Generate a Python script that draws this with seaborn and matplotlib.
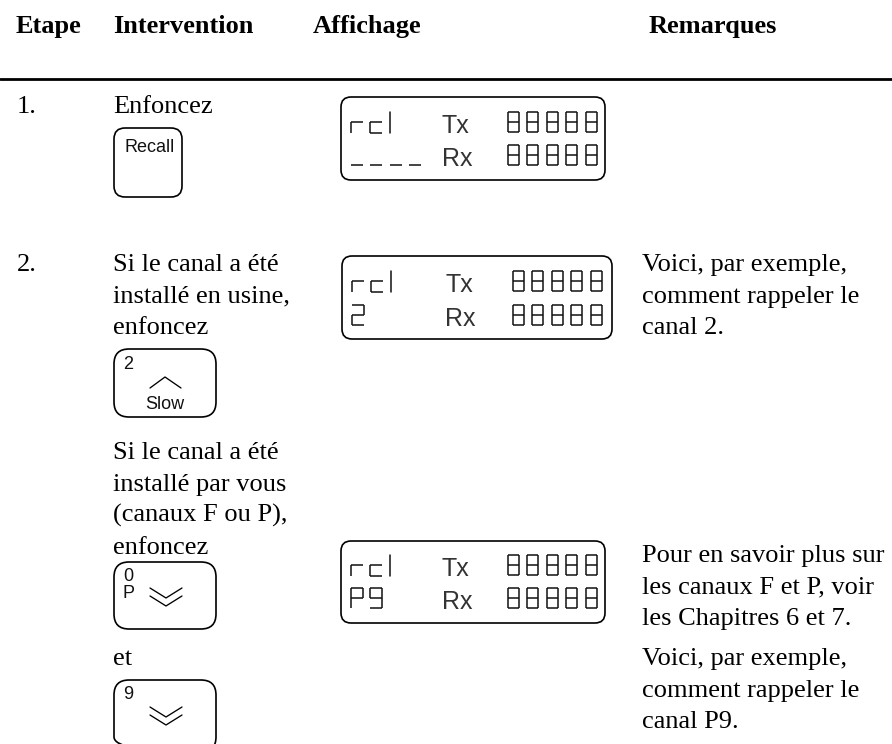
import matplotlib.pyplot as plt
import seaborn as sns
from matplotlib.patches import FancyBboxPatch

sns.set_theme(style="white")
plt.rcParams['font.family'] = ['Liberation Serif', 'DejaVu Sans']

headers = ["Etape", "Intervention", "Affichage", "Remarques"]
steps = ["1.", "2."]
intervention_1 = ["Enfoncez"]
intervention_2 = ["Si le canal a été", "installé en usine,", "enfoncez"]
intervention_3 = ["Si le canal a été", "installé par vous", "(canaux F ou P),", "enfoncez"]
intervention_4 = ["et"]
remarks_1 = ["Voici, par exemple,", "comment rappeler le", "canal 2."]
remarks_2 = ["Pour en savoir plus sur", "les canaux F et P, voir", "les Chapitres 6 et 7."]
remarks_3 = ["Voici, par exemple,", "comment rappeler le", "canal P9."]
readout = "88888"
lcd_tx = "Tx"
lcd_rx = "Rx"
lcd_channels = ["----", "2", "P9"]

fig = plt.figure(figsize=(8.92, 7.44), dpi=100)
ax = fig.add_axes([0, 0, 1, 1])
ax.set_xlim(0, 892)
ax.set_ylim(744, 0)
ax.axis("off")

BODY = 19
SANS = "Liberation Sans"
LCD_LW = 1.1
LEADING = 31.5

# which segments each glyph lights up
SEGMENTS = {
    "8": "abcdefg", "2": "abged", "P": "abefg", "9": "abcdfg",
    "r": "efa", "c": "efad", "-": "d",
}


def segment_glyph(ch, x, y, w=11, h=20):
    m = y + h / 2
    lines = {
        "a": ([x, x + w], [y, y]),
        "b": ([x + w, x + w], [y, m]),
        "c": ([x + w, x + w], [m, y + h]),
        "d": ([x, x + w], [y + h, y + h]),
        "e": ([x, x], [m, y + h]),
        "f": ([x, x], [y, m]),
        "g": ([x, x + w], [m, m]),
    }
    for s in SEGMENTS[ch]:
        ax.plot(*lines[s], color="#111111", lw=LCD_LW, solid_capstyle="butt")


def rounded(x0, y0, x1, y1, r=11, lw=1.2):
    ax.add_patch(FancyBboxPatch((x0 + r, y0 + r), x1 - x0 - 2 * r, y1 - y0 - 2 * r,
                                boxstyle=f"round,pad={r},rounding_size={r}",
                                fc="none", ec="black", lw=lw, clip_on=False))


def lcd(x0, x1, y0, y1, row1, row2, channel, left, label, digits):
    rounded(x0, y0, x1, y1, r=10)
    segment_glyph("r", left, row1 + 10, w=12, h=11)
    segment_glyph("c", left + 19, row1 + 10, w=12, h=11)
    ax.plot([left + 39, left + 39], [row1, row1 + 21], color="#111111", lw=LCD_LW)
    ax.text(label, row1 + 21, lcd_tx, fontsize=18, family=SANS, color="#333333")
    ax.text(label, row2 + 21, lcd_rx, fontsize=18, family=SANS, color="#333333")
    for i, ch in enumerate(readout):
        segment_glyph(ch, digits + i * 19.4, row1)
        segment_glyph(ch, digits + i * 19.4, row2)
    for i, ch in enumerate(channel):
        segment_glyph(ch, left + i * 19.3, row2, w=12)


def chevron(cx, y, dy=10):
    ax.plot([cx - 16, cx, cx + 16], [y, y + dy, y], color="black", lw=0.95)


def text_block(x, y, lines):
    for i, t in enumerate(lines):
        ax.text(x, y + i * LEADING, t, fontsize=BODY, color="black")


for x, h in zip([16, 113, 313, 649], headers):
    ax.text(x, 33, h, fontsize=BODY, fontweight="bold", color="black")
ax.plot([0, 892], [79, 79], color="black", lw=2)

ax.text(17, 113, steps[0], fontsize=BODY, color="black")
ax.text(17, 271, steps[1], fontsize=BODY, color="black")

text_block(113, 113, intervention_1)
text_block(113, 271, intervention_2)
text_block(113, 459, intervention_3)
text_block(113, 665, intervention_4)

text_block(642, 271, remarks_1)
text_block(642, 562, remarks_2)
text_block(642, 665, remarks_3)

# buttons
rounded(114, 128, 182, 197)
ax.text(125, 152, "Recall", fontsize=13, family=SANS, color="#111111")

rounded(114, 349, 216, 417, r=15)
ax.text(123, 369, "2", fontsize=13, family=SANS, color="#111111")
ax.plot([150, 165, 181], [388, 377, 388], color="black", lw=0.95)
ax.text(165, 409, "Slow", fontsize=13, family=SANS, ha="center", color="#111111")

rounded(114, 562, 216, 629, r=15)
ax.text(123, 581, "0", fontsize=13, family=SANS, color="#111111")
ax.text(123, 598, "P", fontsize=13, family=SANS, color="#111111")
chevron(166, 588)
chevron(166, 596)

# runs off the bottom of the page
rounded(114, 680, 216, 752, r=15)
ax.text(123, 699, "9", fontsize=13, family=SANS, color="#111111")
chevron(166, 707)
chevron(166, 715)

# displays
lcd(341, 605, 97, 180, 112, 145, lcd_channels[0], 351, 442, 508)
lcd(342, 612, 256, 339, 271, 305, lcd_channels[1], 352, 445, 513)
lcd(341, 605, 541, 623, 555, 588, lcd_channels[2], 351, 442, 508)

fig.savefig("out.png", dpi=100)
